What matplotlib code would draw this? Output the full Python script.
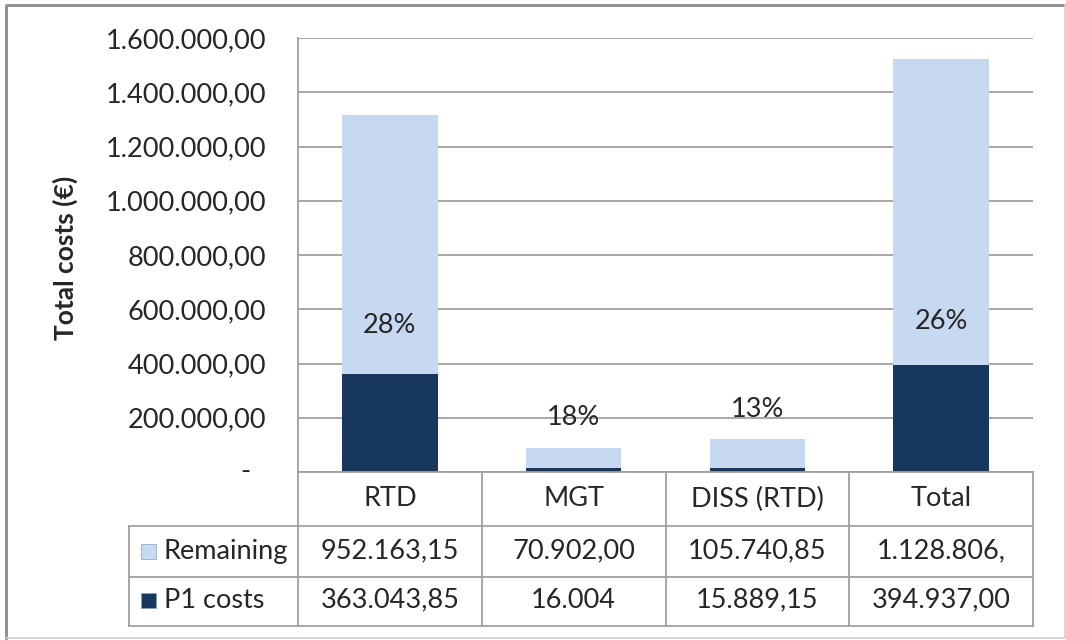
import matplotlib
matplotlib.use("Agg")
import matplotlib.pyplot as plt
from matplotlib.lines import Line2D
from matplotlib.patches import Rectangle
from matplotlib.ticker import FuncFormatter

categories = ["RTD", "MGT", "DISS (RTD)", "Total"]
p1_costs = [363043.85, 16004.00, 15889.15, 394937.00]
remaining = [952163.15, 70902.00, 105740.85, 1128806.00]
remaining_txt = ["952.163,15", "70.902,00", "105.740,85", "1.128.806,"]
p1_txt = ["363.043,85", "16.004", "15.889,15", "394.937,00"]
yticks = [0, 200000, 400000, 600000, 800000, 1000000, 1200000, 1400000, 1600000]

dark = "#17375E"
light = "#C6D9F1"
gridc = "#a0a0a0"
txtc = "#262626"
fs = 19.5

plt.rcParams['font.family'] = ['Lato', 'DejaVu Sans']

W, H = 1066, 640
fig = plt.figure(figsize=(W / 100, H / 100), dpi=100)


def fx(px):
    return px / W


def fy(py):
    return 1 - py / H


ax = fig.add_axes([fx(298), fy(472), fx(1033) - fx(298), fy(38) - fy(472)])
x = list(range(len(categories)))
ax.bar(x, p1_costs, width=0.52, color=dark, zorder=3)
ax.bar(x, remaining, bottom=p1_costs, width=0.52, color=light, zorder=3)
ax.set_xlim(-0.5, len(categories) - 0.5)
ax.set_ylim(0, 1600000)
ax.set_yticks(yticks)


def euro(v, pos=None):
    if v == 0:
        return ""
    s = f"{v:,.2f}"
    return s.replace(",", "X").replace(".", ",").replace("X", ".")


ax.yaxis.set_major_formatter(FuncFormatter(euro))
ax.grid(axis='y', color=gridc, lw=1.3, zorder=0)
ax.tick_params(axis='y', length=0, pad=23, labelsize=fs, labelcolor=txtc)
ax.set_xticks([])
for s in ['top', 'right', 'bottom']:
    ax.spines[s].set_visible(False)
ax.spines['left'].set_color(gridc)
ax.spines['left'].set_linewidth(1.3)
ax.text(-0.072, 0, "-", transform=ax.get_yaxis_transform(), ha='center',
        va='center', fontsize=fs, color=txtc)

# percentage labels
label_offsets = [48, 50, 58, 43]
for i in x:
    pct = p1_costs[i] / (p1_costs[i] + remaining[i]) * 100
    ax.annotate(f"{pct:.0f}%", (i, p1_costs[i]), xytext=(0, label_offsets[i]),
                textcoords='offset pixels', ha='center', va='center',
                fontsize=fs, color=txtc, zorder=5)

fig.text(fx(65), fy(258), "Total costs (€)", rotation=90, ha='center',
         va='center', fontsize=19, fontweight='bold', color=txtc)

# data table
edges = [ax.transData.transform((e - 0.5, 0))[0] / fig.bbox.width
         for e in range(len(categories) + 1)]
centers = [(edges[i] + edges[i + 1]) / 2 for i in x]
row_left = fx(129)
rows_y = [fy(472), fy(526), fy(577), fy(626)]


def line(xs, ys):
    fig.add_artist(Line2D(xs, ys, transform=fig.transFigure, color=gridc, lw=1.3))


for e in edges:
    line([e, e], [rows_y[0], rows_y[3]])
line([row_left, row_left], [rows_y[1], rows_y[3]])
line([edges[0], edges[-1]], [rows_y[0], rows_y[0]])
for yy in rows_y[1:]:
    line([row_left, edges[-1]], [yy, yy])

for i in x:
    fig.text(centers[i], fy(499), categories[i], ha='center', va='center',
             fontsize=fs, color=txtc)
    fig.text(centers[i], fy(551), remaining_txt[i], ha='center', va='center',
             fontsize=fs, color=txtc)
    fig.text(centers[i], fy(600), p1_txt[i], ha='center', va='center',
             fontsize=fs, color=txtc)

for name, col, yc in [("Remaining", light, 551), ("P1 costs", dark, 600)]:
    fig.add_artist(Rectangle((fx(141), fy(yc + 8)), fx(15), 15 / H,
                             transform=fig.transFigure, facecolor=col,
                             edgecolor='#8aa0bb', lw=0.5))
    fig.text(fx(164), fy(yc), name, ha='left', va='center', fontsize=fs,
             color=txtc)

# outer frame
fig.add_artist(Line2D([fx(6), fx(6), fx(1065)], [fy(638), fy(5), fy(5)],
                      transform=fig.transFigure, color='#8c8c8c', lw=2))
fig.add_artist(Line2D([fx(6), fx(1065), fx(1065)], [fy(638), fy(638), fy(5)],
                      transform=fig.transFigure, color='#d0d0d0', lw=1.2))

fig.savefig("out.png", dpi=100)
